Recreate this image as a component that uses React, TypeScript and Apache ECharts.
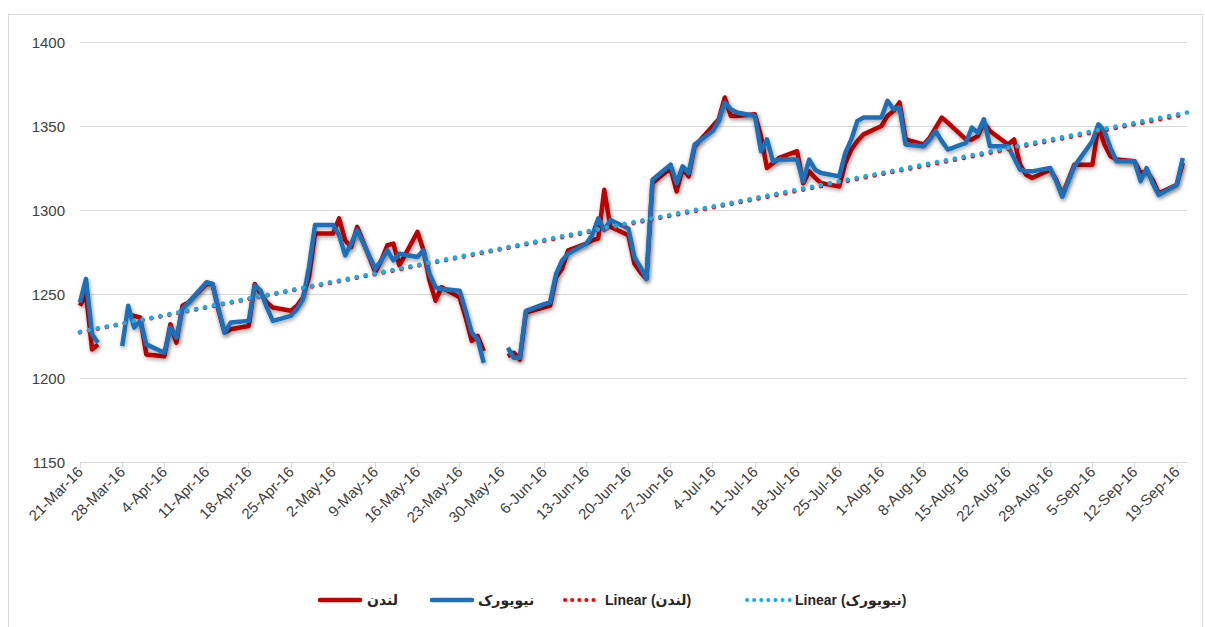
import React, { useEffect, useRef } from "react";
import * as echarts from "echarts";

const tickLabels = [
  "21-Mar-16", "28-Mar-16", "4-Apr-16", "11-Apr-16", "18-Apr-16", "25-Apr-16",
  "2-May-16", "9-May-16", "16-May-16", "23-May-16", "30-May-16", "6-Jun-16",
  "13-Jun-16", "20-Jun-16", "27-Jun-16", "4-Jul-16", "11-Jul-16", "18-Jul-16",
  "25-Jul-16", "1-Aug-16", "8-Aug-16", "15-Aug-16", "22-Aug-16", "29-Aug-16",
  "5-Sep-16", "12-Sep-16", "19-Sep-16",
];

const dates = [
  "03-21", "03-22", "03-23", "03-24", "03-25",
  "03-28", "03-29", "03-30", "03-31", "04-01",
  "04-04", "04-05", "04-06", "04-07", "04-08",
  "04-11", "04-12", "04-13", "04-14", "04-15",
  "04-18", "04-19", "04-20", "04-21", "04-22",
  "04-25", "04-26", "04-27", "04-28", "04-29",
  "05-02", "05-03", "05-04", "05-05", "05-06",
  "05-09", "05-10", "05-11", "05-12", "05-13",
  "05-16", "05-17", "05-18", "05-19", "05-20",
  "05-23", "05-24", "05-25", "05-26", "05-27",
  "05-30", "05-31", "06-01", "06-02", "06-03",
  "06-06", "06-07", "06-08", "06-09", "06-10",
  "06-13", "06-14", "06-15", "06-16", "06-17",
  "06-20", "06-21", "06-22", "06-23", "06-24",
  "06-27", "06-28", "06-29", "06-30", "07-01",
  "07-04", "07-05", "07-06", "07-07", "07-08",
  "07-11", "07-12", "07-13", "07-14", "07-15",
  "07-18", "07-19", "07-20", "07-21", "07-22",
  "07-25", "07-26", "07-27", "07-28", "07-29",
  "08-01", "08-02", "08-03", "08-04", "08-05",
  "08-08", "08-09", "08-10", "08-11", "08-12",
  "08-15", "08-16", "08-17", "08-18", "08-19",
  "08-22", "08-23", "08-24", "08-25", "08-26",
  "08-29", "08-30", "08-31", "09-01", "09-02",
  "09-05", "09-06", "09-07", "09-08", "09-09",
  "09-12", "09-13", "09-14", "09-15", "09-16",
  "09-19", "09-20",
];

const london: (number | null)[] = [
  1243, 1250, 1217, 1220, null,
  null, 1237, 1237, 1236, 1214,
  1213, 1232, 1221, 1243, 1245,
  1256, 1256, 1240, 1227, 1229,
  1231, 1256, 1250, 1245, 1242,
  1240, 1243, 1248, 1260, 1286,
  1286, 1295, 1282, 1278, 1290,
  1263, 1270, 1279, 1280, 1267,
  1287, 1276, 1258, 1246, 1254,
  1248, 1236, 1222, 1225, 1216,
  null, 1213, 1215, 1211, 1239,
  1242, 1243, 1260, 1265, 1276,
  1280, 1282, 1283, 1312, 1290,
  1285, 1268, 1263, 1259, 1316,
  1325, 1311, 1325, 1320, 1338,
  1350, 1354, 1367, 1356, 1356,
  1357, 1344, 1325, 1328, 1331,
  1335, 1316, 1323, 1319, 1316,
  1314, 1328, 1336, 1341, 1345,
  1350, 1356, 1359, 1364, 1342,
  1339, 1343, 1349, 1355, 1352,
  1342, 1342, 1344, 1352, 1347,
  1339, 1342, 1327, 1321, 1319,
  1324, 1318, 1309, 1318, 1327,
  1327, 1350, 1339, 1332, 1330,
  1329, 1322, 1323, 1318, 1310,
  1315, 1328,
];

const newYork: (number | null)[] = [
  1245, 1259, 1226, 1221, null,
  1219, 1243, 1230, 1234, 1220,
  1215, 1230, 1224, 1241, 1245,
  1257, 1256, 1241, 1227, 1233,
  1234, 1255, 1252, 1242, 1234,
  1237, 1241, 1247, 1266, 1291,
  1291, 1285, 1273, 1280, 1288,
  1265, 1270, 1276, 1270, 1274,
  1272, 1276, 1262, 1254, 1253,
  1252, 1240, 1227, 1223, 1209,
  null, 1218, 1212, 1212, 1240,
  1244, 1245, 1262, 1270, 1274,
  1280, 1285, 1295, 1288, 1294,
  1289, 1272, 1266, 1259, 1318,
  1327, 1316, 1326, 1322, 1339,
  1347, 1353, 1364, 1360, 1358,
  1356, 1335, 1342, 1329, 1330,
  1330, 1317, 1330, 1324, 1322,
  1320, 1334, 1342, 1353, 1355,
  1355, 1365, 1360, 1361, 1339,
  1338, 1342, 1347, 1341, 1336,
  1340, 1349, 1346, 1354, 1338,
  1338, 1331, 1324, 1323, 1323,
  1325, 1317, 1308, 1317, 1326,
  1341, 1351, 1347, 1337, 1329,
  1329, 1317, 1325, 1316, 1309,
  1315, 1331,
];

const seriesNames = ["لندن", "نیویورک", "Linear (لندن)", "Linear (نیویورک)"];

const COLORS = {
  london: "#c00000",
  newYork: "#1f6fb9",
  londonTrend: "#ff0000",
  newYorkTrend: "#1cace8",
};

const FONT = "'Liberation Sans', 'DejaVu Sans', sans-serif";

function dayOffset(mmdd: string): number {
  const [m, d] = mmdd.split("-").map(Number);
  return Math.round((Date.UTC(2016, m - 1, d) - Date.UTC(2016, 2, 21)) / 86400000);
}

function pairs(values: (number | null)[]) {
  return dates.map((d, i) => [dayOffset(d), values[i] == null ? null : values[i]]);
}

function trend(values: (number | null)[], x0: number, x1: number) {
  const xs: number[] = [];
  const ys: number[] = [];
  dates.forEach((d, i) => {
    const v = values[i];
    if (v != null) {
      xs.push(dayOffset(d));
      ys.push(v);
    }
  });
  const n = xs.length;
  const mx = xs.reduce((a, b) => a + b, 0) / n;
  const my = ys.reduce((a, b) => a + b, 0) / n;
  let sxy = 0;
  let sxx = 0;
  for (let i = 0; i < n; i++) {
    sxy += (xs[i] - mx) * (ys[i] - my);
    sxx += (xs[i] - mx) * (xs[i] - mx);
  }
  const b = sxy / sxx;
  const a = my - b * mx;
  return [
    [x0, a + b * x0],
    [x1, a + b * x1],
  ];
}

const X_MAX = 183.7;
const DOT = [0.1, 9];

function legendGraphics() {
  const y = 600;
  const items = [
    { x1: 320, x2: 360, tx: 367, color: COLORS.london, dotted: false, name: seriesNames[0] },
    { x1: 432, x2: 472, tx: 478, color: COLORS.newYork, dotted: false, name: seriesNames[1] },
    { x1: 565, x2: 600, tx: 605, color: COLORS.londonTrend, dotted: true, name: seriesNames[2] },
    { x1: 747, x2: 790, tx: 795, color: COLORS.newYorkTrend, dotted: true, name: seriesNames[3] },
  ];
  const out: any[] = [];
  items.forEach((it) => {
    out.push({
      type: "line",
      silent: true,
      shape: { x1: it.x1, y1: y, x2: it.x2, y2: y },
      style: it.dotted
        ? { stroke: it.color, lineWidth: 4, lineDash: [0.1, 7], lineCap: "round" }
        : { stroke: it.color, lineWidth: 4.5, lineCap: "round" },
    });
    out.push({
      type: "text",
      silent: true,
      x: it.tx,
      y: y,
      style: {
        text: it.name,
        fill: "#262626",
        font: `bold 14px ${FONT}`,
        textAlign: "left",
        textVerticalAlign: "middle",
        verticalAlign: "middle",
      },
    });
  });
  return out;
}

export default function App() {
  const ref = useRef<HTMLDivElement>(null);

  useEffect(() => {
    if (!ref.current) return;
    const chart = echarts.init(ref.current, undefined, { renderer: "svg" });
    const shadow = {
      shadowColor: "rgba(0,0,0,0.35)",
      shadowBlur: 4,
      shadowOffsetX: 1,
      shadowOffsetY: 2,
    };
    chart.setOption({
      animation: false,
      backgroundColor: "#ffffff",
      textStyle: { fontFamily: FONT },
      graphic: [
        {
          type: "rect",
          shape: { x: 8.5, y: 14.5, width: 1194, height: 640 },
          style: { fill: "none", stroke: "#d9d9d9", lineWidth: 1 },
          silent: true,
          z: -10,
        },
        ...legendGraphics(),
      ],
      grid: { left: 80, top: 42, width: 1107, height: 420, containLabel: false },
      xAxis: {
        type: "value",
        min: 0,
        max: X_MAX,
        interval: 7,
        axisLine: { show: true, lineStyle: { color: "#d9d9d9", width: 1 } },
        axisTick: { show: true, length: 6, lineStyle: { color: "#d9d9d9" } },
        splitLine: { show: false },
        axisLabel: {
          rotate: 45,
          margin: 7,
          fontSize: 15,
          color: "#404040",
          fontFamily: FONT,
          showMaxLabel: false,
          formatter: (v: number) => {
            if (Math.abs(v / 7 - Math.round(v / 7)) > 1e-6) return "";
            return tickLabels[Math.round(v / 7)] ?? "";
          },
        },
      },
      yAxis: {
        type: "value",
        min: 1150,
        max: 1400,
        interval: 50,
        axisLine: { show: false },
        axisTick: { show: false },
        splitLine: { lineStyle: { color: "#d9d9d9", width: 1 } },
        axisLabel: {
          fontSize: 15,
          color: "#404040",
          margin: 15,
          fontFamily: FONT,
          formatter: (v: number) => String(v),
        },
      },
      series: [
        {
          name: seriesNames[0],
          type: "line",
          symbol: "none",
          connectNulls: false,
          data: pairs(london),
          lineStyle: { color: COLORS.london, width: 4.5, join: "round", ...shadow },
          itemStyle: { color: COLORS.london },
          z: 2,
        },
        {
          name: seriesNames[1],
          type: "line",
          symbol: "none",
          connectNulls: false,
          data: pairs(newYork),
          lineStyle: { color: COLORS.newYork, width: 4.5, join: "round", ...shadow },
          itemStyle: { color: COLORS.newYork },
          z: 3,
        },
        {
          name: seriesNames[2],
          type: "line",
          symbol: "none",
          data: trend(london, 0, X_MAX),
          lineStyle: { color: COLORS.londonTrend, width: 4.5, type: DOT, cap: "round" },
          itemStyle: { color: COLORS.londonTrend },
          z: 4,
        },
        {
          name: seriesNames[3],
          type: "line",
          symbol: "none",
          data: trend(newYork, 0, X_MAX),
          lineStyle: { color: COLORS.newYorkTrend, width: 4.5, type: DOT, cap: "round" },
          itemStyle: { color: COLORS.newYorkTrend },
          z: 5,
        },
      ],
    });
    return () => chart.dispose();
  }, []);

  return (
    <div
      ref={ref}
      style={{ position: "absolute", left: 0, top: 0, width: 1205, height: 627 }}
    />
  );
}
